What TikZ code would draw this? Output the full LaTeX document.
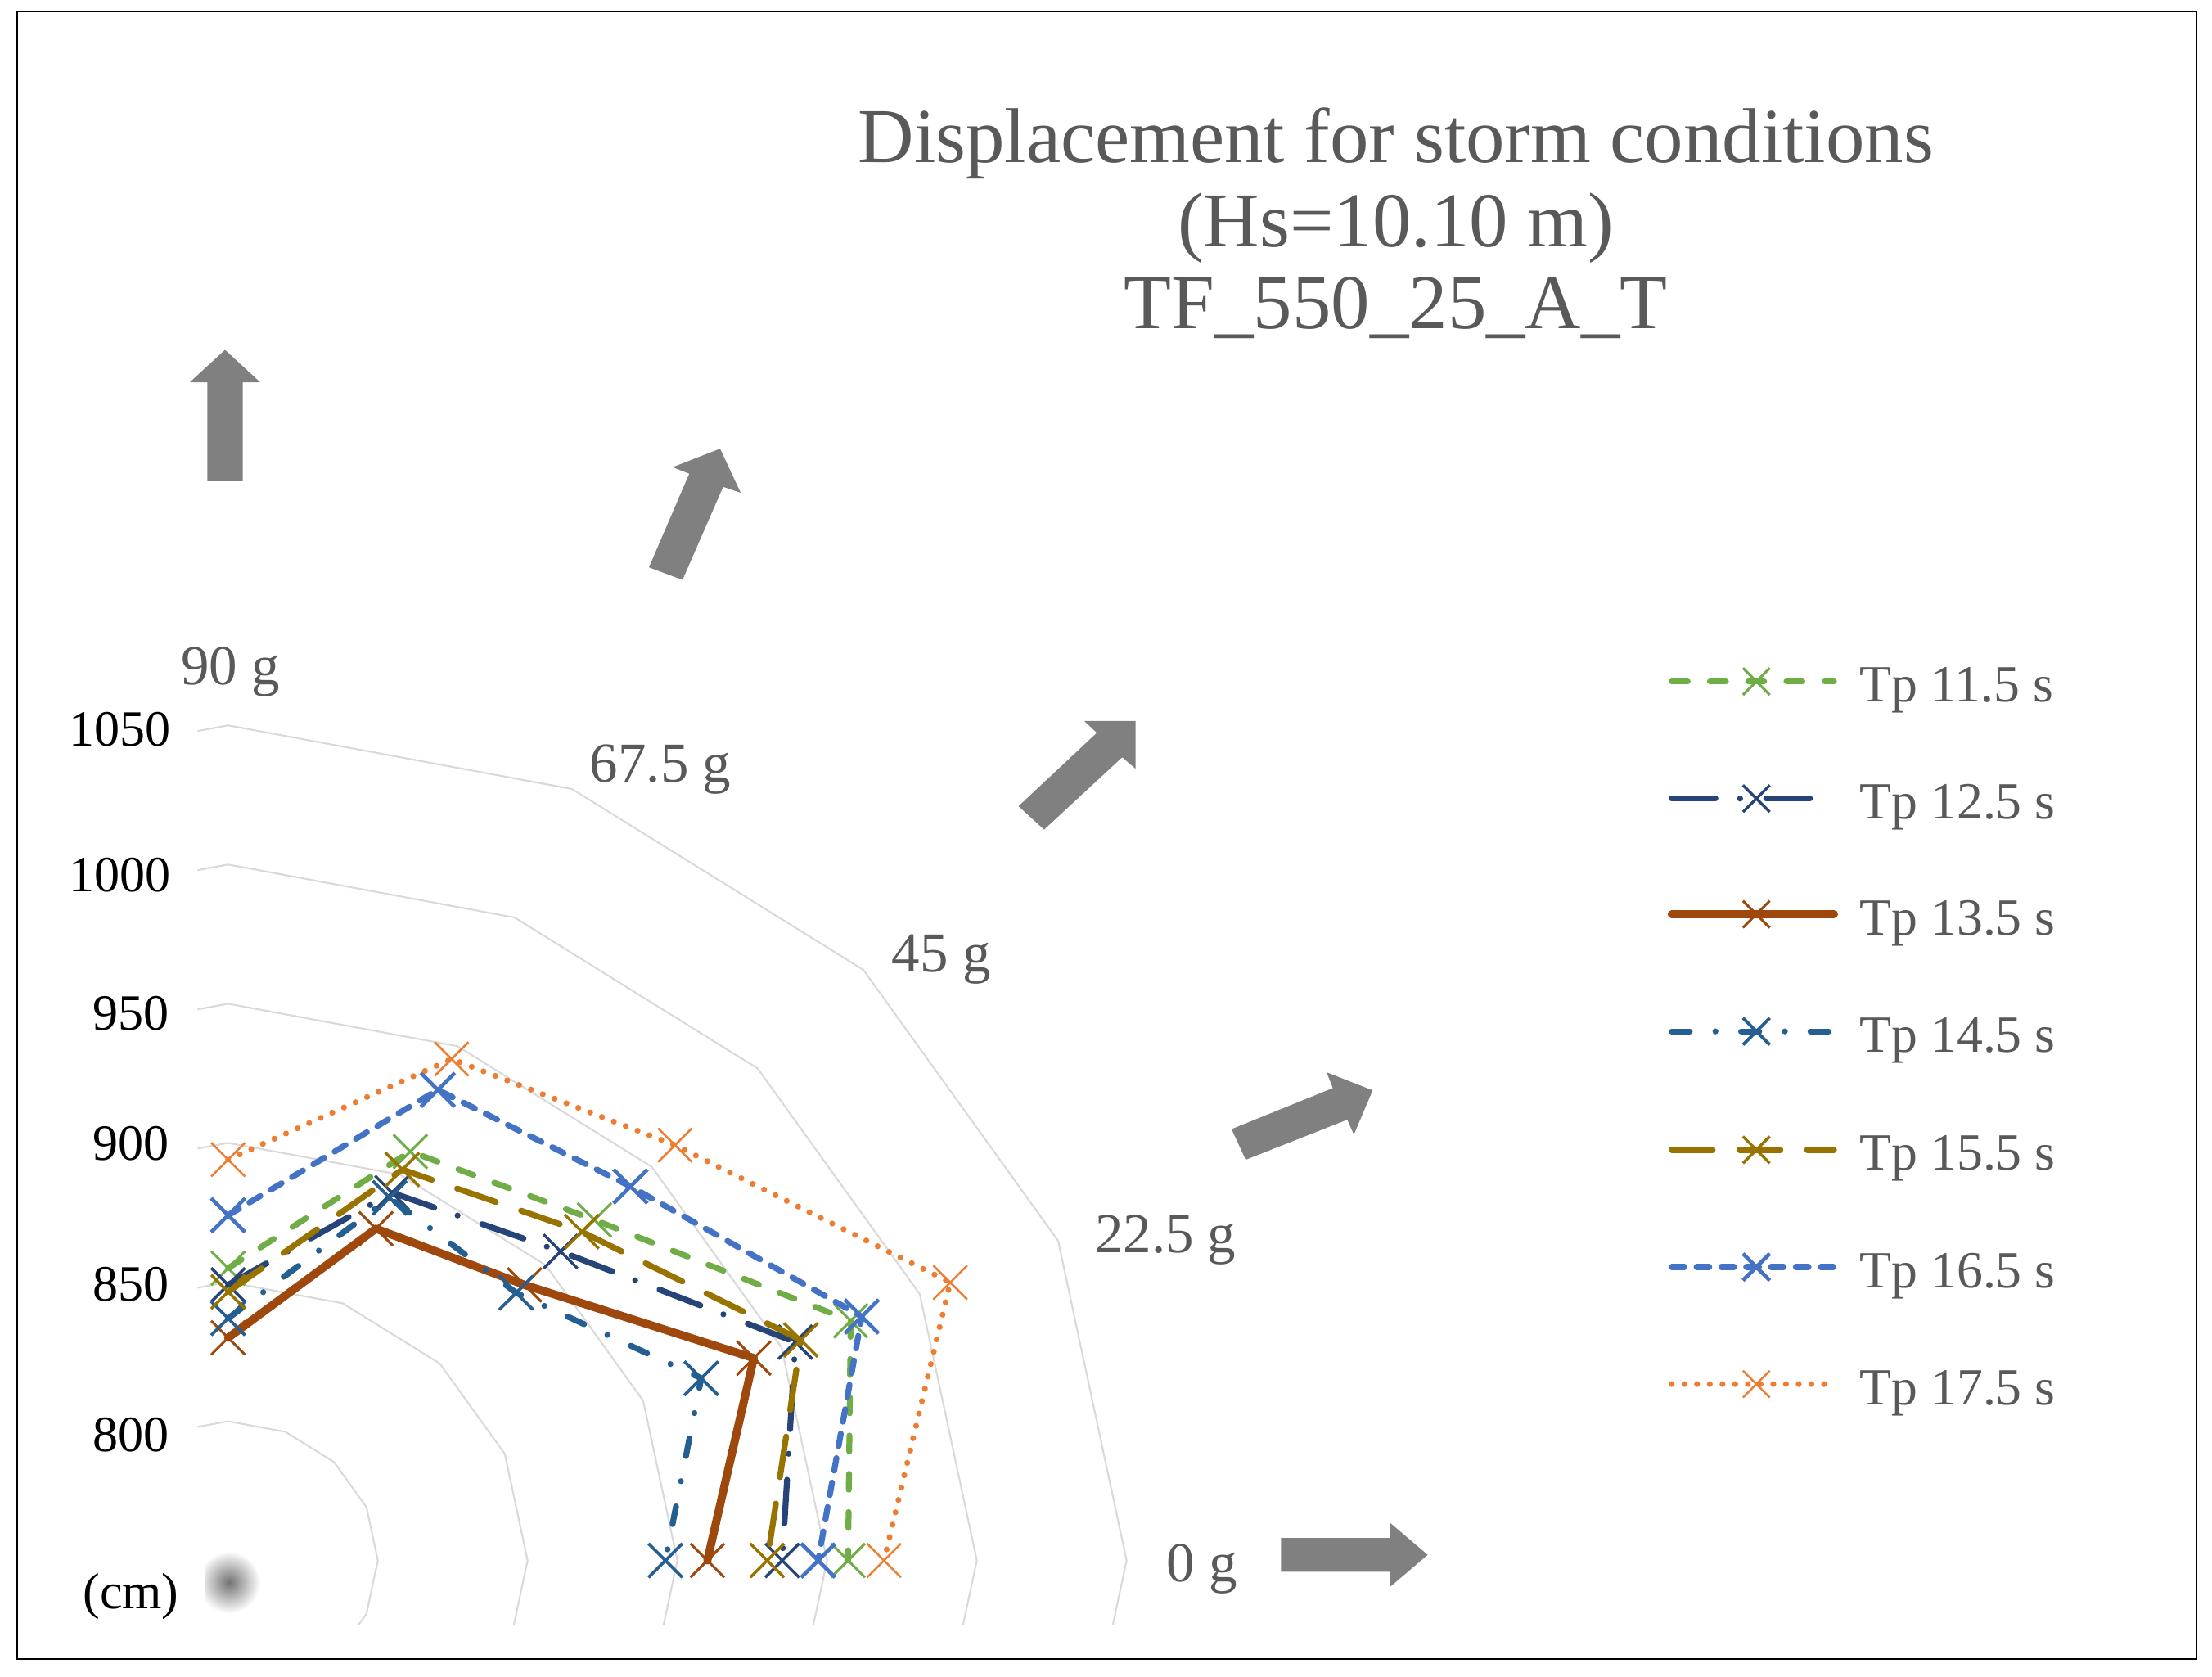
\documentclass[tikz,border=0pt]{standalone}
\usepackage{fontspec}
\setmainfont{Liberation Serif}
\definecolor{cg}{HTML}{70AD47}
\definecolor{cn}{HTML}{264478}
\definecolor{cb}{HTML}{9E480E}
\definecolor{cs}{HTML}{255E91}
\definecolor{cy}{HTML}{997300}
\definecolor{cl}{HTML}{4472C4}
\definecolor{co}{HTML}{ED7D31}
\definecolor{gridgray}{HTML}{D9D9D9}
\definecolor{txtgray}{HTML}{595959}
\definecolor{arrgray}{HTML}{808080}
\newcommand\putx[4]{\draw[draw=#2,line width=#3pt] (#1) +(-#4,-#4) -- +(#4,#4) (#1) +(-#4,#4) -- +(#4,-#4);}
\begin{document}
\begin{tikzpicture}[x=1pt,y=-1pt,
 grid/.style={draw=gridgray,line width=1.2pt},
 ser/.style={line width=4.2pt,line cap=round,line join=round},
 sG/.style={ser,draw=cg,dash pattern=on 11.3pt off 15.8pt},
 sN/.style={ser,draw=cn,dash pattern=on 31pt off 17.5pt on 0pt off 18.5pt},
 sB/.style={ser,draw=cb,line width=5.8pt},
 sS/.style={ser,draw=cs,dash pattern=on 12.8pt off 18.2pt on 0pt off 18.2pt},
 sY/.style={ser,draw=cy,dash pattern=on 29pt off 19pt},
 sL/.style={ser,draw=cl,dash pattern=on 9pt off 8.6pt},
 sO/.style={ser,draw=co,dash pattern=on 0pt off 9pt},
 ttl/.style={font=\fontsize{55}{66}\selectfont,text=txtgray,inner sep=0pt,anchor=base},
 axl/.style={font=\fontsize{40}{48}\selectfont,text=txtgray,inner sep=0pt,anchor=base west},
 rad/.style={font=\fontsize{36}{43}\selectfont,text=black,inner sep=0pt,anchor=base east},
 leg/.style={font=\fontsize{37}{44}\selectfont,text=txtgray,inner sep=0pt,anchor=base west},
 arr/.style={fill=arrgray}]
\useasboundingbox (0,0) rectangle (1568,1188.6);
\fill[white] (0,0) rectangle (1568,1188.6);
\draw[line width=1.3pt] (12,8) rectangle (1557,1176);

% title
\node[ttl] (t1) at (989.5,115) {Displacement for storm conditions};
\node[ttl] (t2) at (989.5,175) {(Hs=10.10 m)};
\node[ttl] (t3) at (989.5,233) {TF\_550\_25\_A\_T};

% direction arrows
\fill[arr] (159.5,248) -- (184.5,271) -- (172,271) -- (172,341) -- (147,341) -- (147,271) -- (134.5,271) -- cycle;
\fill[arr] (510.4,318) -- (525,349.2) -- (512.6,345) -- (483.8,411) -- (460,402.1) -- (488.6,335.7) -- (476.8,331.1) -- cycle;
\fill[arr] (805,511) -- (805,544.9) -- (795.5,536.7) -- (740.1,588) -- (722,571.4) -- (777.5,519.4) -- (768.6,511) -- cycle;
\fill[arr] (973,772.8) -- (959.7,804.1) -- (955,793.6) -- (883,822) -- (873,800.3) -- (944.8,771.2) -- (940.4,760) -- cycle;
\fill[arr] (1012,1102) -- (985,1125) -- (985,1114) -- (908,1114) -- (908,1090) -- (985,1090) -- (985,1079) -- cycle;

% grid
\begin{scope}
\clip (140,380) rectangle (1100,1151);
\begin{scope}[shift={(161.7,1106)},xscale=2.123,yscale=-1.973]
\foreach \r in {50,100,150,200,250,300}
  \draw[grid] (0:\r) \foreach \a in {22.5,45,...,337.5}{ -- (\a:\r)} -- cycle;
\end{scope}
\end{scope}

% blurred centre dot
\begin{scope}
\clip (146,1090) rectangle (200,1155);
\shade[inner color=black!55,outer color=white] (162.4,1121.5) circle (22);
\end{scope}

% data
\begin{scope}[shift={(161.7,1106)},xscale=2.123,yscale=-1.973]
\coordinate (g1) at (90:105);  \coordinate (g2) at (67.5:159); \coordinate (g3) at (45:173); \coordinate (g4) at (22.5:225); \coordinate (g5) at (0:207);
\coordinate (n1) at (90:99);   \coordinate (n2) at (67.5:143); \coordinate (n3) at (45:157); \coordinate (n4) at (22.5:205); \coordinate (n5) at (0:185);
\coordinate (b1) at (90:80);   \coordinate (b2) at (67.5:129); \coordinate (b3) at (45:140); \coordinate (b4) at (22.5:190); \coordinate (b5) at (0:160);
\coordinate (s1) at (90:87);   \coordinate (s2) at (67.5:141); \coordinate (s3) at (45:136); \coordinate (s4) at (22.5:171); \coordinate (s5) at (0:146);
\coordinate (y1) at (90:96.5); \coordinate (y2) at (67.5:152); \coordinate (y3) at (45:167); \coordinate (y4) at (22.5:207); \coordinate (y5) at (0:180);
\coordinate (l1) at (90:124);  \coordinate (l2) at (67.5:183); \coordinate (l3) at (45:190); \coordinate (l4) at (22.5:229); \coordinate (l5) at (0:197);
\coordinate (o1) at (90:144);  \coordinate (o2) at (67.5:195); \coordinate (o3) at (45:211); \coordinate (o4) at (22.5:261); \coordinate (o5) at (0:219);
\end{scope}

\draw[sG] (g1) -- (g2) -- (g3) -- (g4) -- (g5);
\foreach \p in {g1,g2,g3,g4,g5} {\putx{\p}{cg}{1.8}{12}}
\draw[sN] (n1) -- (n2) -- (n3) -- (n4) -- (n5);
\foreach \p in {n1,n2,n3,n4,n5} {\putx{\p}{cn}{2}{12}}
\draw[sB] (b1) -- (b2) -- (b3) -- (b4) -- (b5);
\foreach \p in {b1,b2,b3,b4,b5} {\putx{\p}{cb}{1.8}{12}}
\draw[sS] (s1) -- (s2) -- (s3) -- (s4) -- (s5);
\foreach \p in {s1,s2,s3,s4,s5} {\putx{\p}{cs}{2.2}{12}}
\draw[sY] (y1) -- (y2) -- (y3) -- (y4) -- (y5);
\foreach \p in {y1,y2,y3,y4,y5} {\putx{\p}{cy}{2}{12}}
\draw[sL] (l1) -- (l2) -- (l3) -- (l4) -- (l5);
\foreach \p in {l1,l2,l3,l4,l5} {\putx{\p}{cl}{2.7}{12}}
\draw[sO] (o1) -- (o2) -- (o3) -- (o4) -- (o5);
\foreach \p in {o1,o2,o3,o4,o5} {\putx{\p}{co}{1.5}{12}}

% axis labels
\node[axl] (a90) at (128,485) {90 g};
\node[axl] (a67) at (418,554) {67.5 g};
\node[axl] (a45) at (632,689) {45 g};
\node[axl] (a22) at (776,888) {22.5 g};
\node[axl] (a0) at (827,1121) {0 g};

% radial labels
\node[rad] (r1050) at (121,529) {1050};
\node[rad] (r1000) at (121,632) {1000};
\node[rad] (r950) at (120,730) {950};
\node[rad] (r900) at (120,822) {900};
\node[rad] (r850) at (120,922) {850};
\node[rad] (r800) at (120,1029) {800};
\node[rad] (rcm) at (127,1140) {(cm)};

% legend
\foreach \k/\st/\c/\w/\ty/\txt in {1/sG/cg/1.8/485/{Tp 11.5 s},2/sN/cn/2/568/{Tp 12.5 s},3/sB/cb/1.8/650/{Tp 13.5 s},4/sS/cs/2.2/733/{Tp 14.5 s},5/sY/cy/2/817/{Tp 15.5 s},6/sL/cl/2.7/900/{Tp 16.5 s},7/sO/co/1.5/983/{Tp 17.5 s}}{
  \coordinate (la\k) at (1185,\ty-2);
  \coordinate (lb\k) at (1300,\ty-2);
  \coordinate (lm\k) at (1245,\ty-2);
  \draw[\st] (la\k) -- (lb\k);
  \putx{lm\k}{\c}{\w}{9.5}
  \node[leg] (lt\k) at (1318,\ty+12.5) {\txt};
}
\end{tikzpicture}
\end{document}
